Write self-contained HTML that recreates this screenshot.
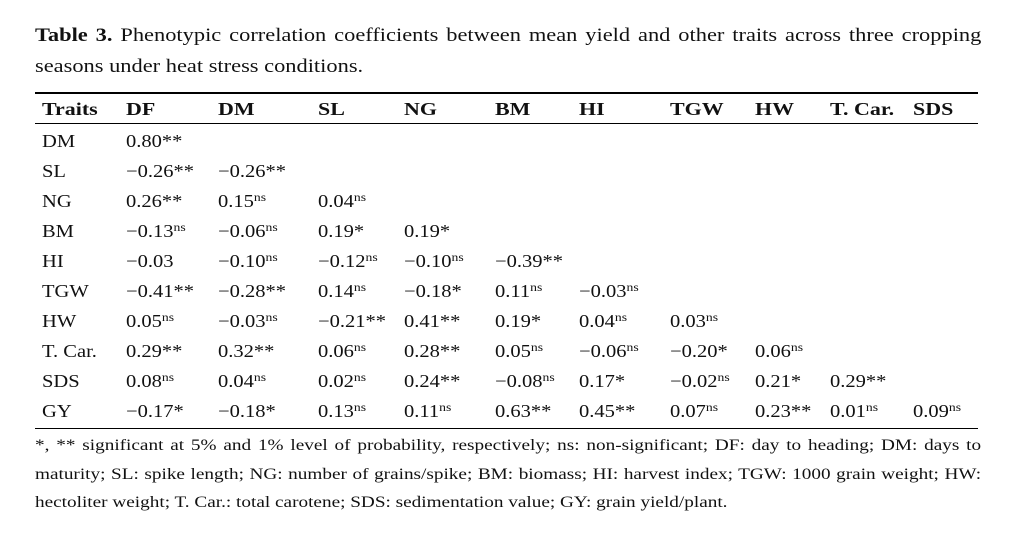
<!DOCTYPE html>
<html><head><meta charset="utf-8"><style>
body{margin:0;background:#fff;width:1017px;height:539px;position:relative;font-family:"Liberation Serif",serif;color:#111;overflow:hidden}
.j{position:absolute;left:35px;text-align:justify;text-align-last:justify;white-space:nowrap;transform-origin:0 0}
.l{position:absolute;left:35px;white-space:nowrap;transform-origin:0 0}
.cap{font-size:19px;line-height:24px;transform:scaleX(1.18)}
.j.cap{width:802px}
.fn{font-size:15.5px;line-height:20px;transform:scaleX(1.24)}
.j.fn{width:763px}
.hl{position:absolute;left:35px;width:943px;background:#000}
.c{position:absolute;font-size:18px;white-space:nowrap;line-height:20px;transform:scaleX(1.14);transform-origin:0 0}
.h{font-weight:bold;transform:scaleX(1.22)}
sup{font-size:12px;vertical-align:6px;line-height:0}
</style></head><body>
<div class="j cap" style="top:24px"><b>Table 3.</b> Phenotypic correlation coefficients between mean yield and other traits across three cropping</div>
<div class="l cap" style="top:55px">seasons under heat stress conditions.</div>
<div class="hl" style="top:92px;height:1.5px"></div>
<div class="hl" style="top:123px;height:1px"></div>
<div class="hl" style="top:428px;height:1px"></div>
<div id="tb"></div>
<div class="j fn" style="top:436px">*, ** significant at 5% and 1% level of probability, respectively; ns: non-significant; DF: day to heading; DM: days to</div>
<div class="j fn" style="top:465px">maturity; SL: spike length; NG: number of grains/spike; BM: biomass; HI: harvest index; TGW: 1000 grain weight; HW:</div>
<div class="l fn" style="top:493px">hectoliter weight; T. Car.: total carotene; SDS: sedimentation value; GY: grain yield/plant.</div>
<script>
var xs=[42,126,218,318,404,495,579,670,755,830,913];
var hdr=["Traits","DF","DM","SL","NG","BM","HI","TGW","HW","T. Car.","SDS"];
var rows=[
["DM","0.80**"],
["SL","−0.26**","−0.26**"],
["NG","0.26**","0.15|ns","0.04|ns"],
["BM","−0.13|ns","−0.06|ns","0.19*","0.19*"],
["HI","−0.03","−0.10|ns","−0.12|ns","−0.10|ns","−0.39**"],
["TGW","−0.41**","−0.28**","0.14|ns","−0.18*","0.11|ns","−0.03|ns"],
["HW","0.05|ns","−0.03|ns","−0.21**","0.41**","0.19*","0.04|ns","0.03|ns"],
["T. Car.","0.29**","0.32**","0.06|ns","0.28**","0.05|ns","−0.06|ns","−0.20*","0.06|ns"],
["SDS","0.08|ns","0.04|ns","0.02|ns","0.24**","−0.08|ns","0.17*","−0.02|ns","0.21*","0.29**"],
["GY","−0.17*","−0.18*","0.13|ns","0.11|ns","0.63**","0.45**","0.07|ns","0.23**","0.01|ns","0.09|ns"]];
var h="";
hdr.forEach(function(s,i){h+='<div class="c h" style="left:'+xs[i]+'px;top:99px">'+s+'</div>';});
rows.forEach(function(r,j){var y=131+j*30;r.forEach(function(s,i){var p=s.split("|");var t=p[0]+(p[1]?'<sup>'+p[1]+'</sup>':'');h+='<div class="c" style="left:'+xs[i]+'px;top:'+y+'px">'+t+'</div>';});});
document.getElementById("tb").innerHTML=h;
</script>
</body></html>
